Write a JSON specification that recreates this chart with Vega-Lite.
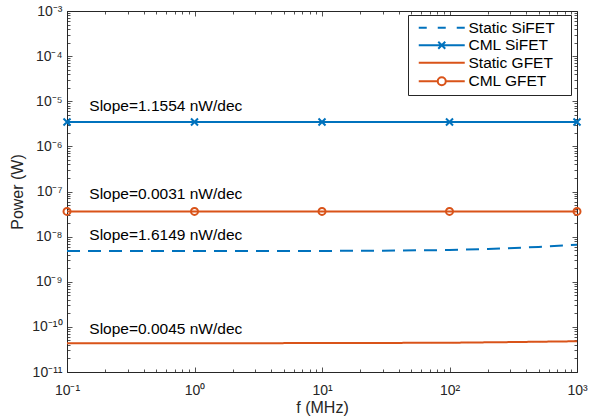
{
  "$schema": "https://vega.github.io/schema/vega-lite/v6.json",
  "width": 510,
  "height": 361,
  "autosize": "none",
  "padding": {"left": 67, "top": 11, "right": 13, "bottom": 47},
  "background": "white",
  "config": {
    "view": {"stroke": "#262626", "strokeWidth": 1},
    "font": "Liberation Sans",
    "axis": {
      "grid": false,
      "domainColor": "#262626",
      "tickColor": "#262626",
      "tickWidth": 0.8,
      "labelColor": "#262626",
      "titleColor": "#262626",
      "titleFontWeight": "normal",
      "labelFontSize": 14,
      "titleFontSize": 16,
      "labelFlush": false,
      "labelOverlap": false,
      "labelBound": false
    }
  },
  "datasets": {
    "lines": [
      {"series": "Static SiFET", "f": 0.1, "p": 4.8e-9},
      {"series": "Static SiFET", "f": 1, "p": 4.8e-9},
      {"series": "Static SiFET", "f": 10, "p": 4.82e-9},
      {"series": "Static SiFET", "f": 30, "p": 4.88e-9},
      {"series": "Static SiFET", "f": 100, "p": 5.05e-9},
      {"series": "Static SiFET", "f": 200, "p": 5.3e-9},
      {"series": "Static SiFET", "f": 500, "p": 5.9e-9},
      {"series": "Static SiFET", "f": 1000, "p": 6.6e-9},
      {"series": "CML SiFET", "f": 0.1, "p": 3.46e-6},
      {"series": "CML SiFET", "f": 1, "p": 3.46e-6},
      {"series": "CML SiFET", "f": 10, "p": 3.46e-6},
      {"series": "CML SiFET", "f": 100, "p": 3.46e-6},
      {"series": "CML SiFET", "f": 1000, "p": 3.46e-6},
      {"series": "Static GFET", "f": 0.1, "p": 4.35e-11},
      {"series": "Static GFET", "f": 1, "p": 4.35e-11},
      {"series": "Static GFET", "f": 10, "p": 4.37e-11},
      {"series": "Static GFET", "f": 100, "p": 4.45e-11},
      {"series": "Static GFET", "f": 300, "p": 4.6e-11},
      {"series": "Static GFET", "f": 1000, "p": 4.8e-11},
      {"series": "CML GFET", "f": 0.1, "p": 3.62e-8},
      {"series": "CML GFET", "f": 1, "p": 3.62e-8},
      {"series": "CML GFET", "f": 10, "p": 3.62e-8},
      {"series": "CML GFET", "f": 100, "p": 3.62e-8},
      {"series": "CML GFET", "f": 1000, "p": 3.62e-8}
    ],
    "notes": [
      {"label": "Slope=1.1554 nW/dec", "f": 0.1496, "p": 7.7e-6},
      {"label": "Slope=0.0031 nW/dec", "f": 0.1496, "p": 8.6e-8},
      {"label": "Slope=1.6149 nW/dec", "f": 0.1496, "p": 1.06e-8},
      {"label": "Slope=0.0045 nW/dec", "f": 0.1496, "p": 9.2e-11}
    ]
  },
  "resolve": {
    "axis": {"x": "independent", "y": "independent"},
    "scale": {"shape": "independent"}
  },
  "layer": [
    {
      "data": {"name": "lines"},
      "mark": {"type": "line", "strokeWidth": 2, "clip": true},
      "encoding": {
        "x": {
          "field": "f", "type": "quantitative",
          "scale": {"type": "log", "domain": [0.1, 1000], "nice": false},
          "axis": {
            "title": "f (MHz)",
            "orient": "bottom",
            "values": [0.1,0.2,0.3,0.4,0.5,0.6,0.7,0.8,0.9,1,2,3,4,5,6,7,8,9,10,20,30,40,50,60,70,80,90,100,200,300,400,500,600,700,800,900,1000],
            "labelExpr": "abs(log(datum.value)/LN10 - round(log(datum.value)/LN10)) < 1e-6 ? ['10⁻¹','10⁰','10¹','10²','10³'][round(log(datum.value)/LN10)+1] : ''",
            "tickSize": {"condition": {"test": "abs(log(datum.value)/LN10 - round(log(datum.value)/LN10)) < 1e-6", "value": -5}, "value": -3},
            "labelPadding": 16,
            "titlePadding": 0
          }
        },
        "y": {
          "field": "p", "type": "quantitative",
          "scale": {"type": "log", "domain": [1e-11, 1e-3], "nice": false},
          "axis": {
            "title": "Power (W)",
            "orient": "left",
            "values": [1e-11,2e-11,3e-11,4e-11,5e-11,6e-11,7e-11,8e-11,9e-11,1e-10,2e-10,3e-10,4e-10,5e-10,6e-10,7e-10,8e-10,9e-10,1e-9,2e-9,3e-9,4e-9,5e-9,6e-9,7e-9,8e-9,9e-9,1e-8,2e-8,3e-8,4e-8,5e-8,6e-8,7e-8,8e-8,9e-8,1e-7,2e-7,3e-7,4e-7,5e-7,6e-7,7e-7,8e-7,9e-7,1e-6,2e-6,3e-6,4e-6,5e-6,6e-6,7e-6,8e-6,9e-6,1e-5,2e-5,3e-5,4e-5,5e-5,6e-5,7e-5,8e-5,9e-5,1e-4,2e-4,3e-4,4e-4,5e-4,6e-4,7e-4,8e-4,9e-4,1e-3],
            "labelExpr": "abs(log(datum.value)/LN10 - round(log(datum.value)/LN10)) < 1e-6 ? ['10⁻¹¹','10⁻¹⁰','10⁻⁹','10⁻⁸','10⁻⁷','10⁻⁶','10⁻⁵','10⁻⁴','10⁻³'][round(log(datum.value)/LN10)+11] : ''",
            "tickSize": {"condition": {"test": "abs(log(datum.value)/LN10 - round(log(datum.value)/LN10)) < 1e-6", "value": -5}, "value": -3},
            "labelPadding": 10,
            "titlePadding": 6
          }
        },
        "color": {
          "field": "series", "type": "nominal",
          "scale": {"domain": ["Static SiFET", "CML SiFET", "Static GFET", "CML GFET"], "range": ["#0072BD", "#0072BD", "#D95319", "#D95319"]},
          "legend": null
        },
        "strokeDash": {
          "field": "series", "type": "nominal",
          "scale": {"domain": ["Static SiFET", "CML SiFET", "Static GFET", "CML GFET"], "range": [[13, 8], [1, 0], [1, 0], [1, 0]]},
          "legend": null
        }
      }
    },
    {
      "data": {"name": "lines"},
      "transform": [{"filter": "datum.series == 'CML SiFET'"}],
      "mark": {"type": "point", "filled": false, "strokeWidth": 2, "size": 49, "opacity": 1, "color": "#0072BD", "shape": "M-1,-1L1,1M-1,1L1,-1", "clip": false},
      "encoding": {
        "x": {"field": "f", "type": "quantitative", "axis": null},
        "y": {"field": "p", "type": "quantitative", "axis": null}
      }
    },
    {
      "data": {"name": "lines"},
      "transform": [{"filter": "datum.series == 'CML GFET'"}],
      "mark": {"type": "point", "filled": false, "strokeWidth": 2, "size": 49, "opacity": 1, "color": "#D95319", "shape": "circle", "clip": false},
      "encoding": {
        "x": {"field": "f", "type": "quantitative", "axis": null},
        "y": {"field": "p", "type": "quantitative", "axis": null}
      }
    },
    {
      "data": {"name": "lines"},
      "mark": {"type": "point", "filled": false, "strokeWidth": 2, "size": 100, "opacity": 0},
      "encoding": {
        "x": {
          "field": "f", "type": "quantitative",
          "axis": {
            "orient": "top", "title": null, "labels": false, "domain": false,
            "values": [0.1,0.2,0.3,0.4,0.5,0.6,0.7,0.8,0.9,1,2,3,4,5,6,7,8,9,10,20,30,40,50,60,70,80,90,100,200,300,400,500,600,700,800,900,1000],
            "tickSize": {"condition": {"test": "abs(log(datum.value)/LN10 - round(log(datum.value)/LN10)) < 1e-6", "value": -5}, "value": -3}
          }
        },
        "y": {
          "field": "p", "type": "quantitative",
          "axis": {
            "orient": "right", "title": null, "labels": false, "domain": false,
            "values": [1e-11,2e-11,3e-11,4e-11,5e-11,6e-11,7e-11,8e-11,9e-11,1e-10,2e-10,3e-10,4e-10,5e-10,6e-10,7e-10,8e-10,9e-10,1e-9,2e-9,3e-9,4e-9,5e-9,6e-9,7e-9,8e-9,9e-9,1e-8,2e-8,3e-8,4e-8,5e-8,6e-8,7e-8,8e-8,9e-8,1e-7,2e-7,3e-7,4e-7,5e-7,6e-7,7e-7,8e-7,9e-7,1e-6,2e-6,3e-6,4e-6,5e-6,6e-6,7e-6,8e-6,9e-6,1e-5,2e-5,3e-5,4e-5,5e-5,6e-5,7e-5,8e-5,9e-5,1e-4,2e-4,3e-4,4e-4,5e-4,6e-4,7e-4,8e-4,9e-4,1e-3],
            "tickSize": {"condition": {"test": "abs(log(datum.value)/LN10 - round(log(datum.value)/LN10)) < 1e-6", "value": -5}, "value": -3}
          }
        },
        "shape": {
          "field": "series", "type": "nominal",
          "scale": {
            "domain": ["Static SiFET", "CML SiFET", "Static GFET", "CML GFET"],
            "range": [
              "M-4.6,0H-3M-0.8,0H0.8M3,0H4.6",
              "M-4.6,0H4.6M-0.7,-0.7L0.7,0.7M-0.7,0.7L0.7,-0.7",
              "M-4.6,0H4.6",
              "M-4.6,0H-0.8A0.8,0.8 0 1,1 0.8,0A0.8,0.8 0 1,1 -0.8,0M0.8,0H4.6"
            ]
          },
          "legend": {
            "orient": "none", "legendX": 341, "legendY": 4,
            "title": "\u00a0",
            "titleOrient": "right",
            "titlePadding": 11,
            "titleFontSize": 12,
            "padding": 5,
            "strokeColor": "#262626",
            "fillColor": "white",
            "symbolSize": 100,
            "symbolStrokeWidth": 2,
            "symbolOpacity": 1,
            "symbolFillColor": "transparent",
            "symbolStrokeColor": {"expr": "indexof(datum.value, 'SiFET') >= 0 ? '#0072BD' : '#D95319'"},
            "symbolOffset": 21,
            "labelOffset": 19,
            "labelFontSize": 15.5,
            "labelColor": "#000000",
            "rowPadding": 0.5
          }
        }
      }
    },
    {
      "data": {"name": "notes"},
      "mark": {"type": "text", "align": "left", "baseline": "middle", "fontSize": 15.5, "color": "#000000"},
      "encoding": {
        "x": {"field": "f", "type": "quantitative", "axis": null},
        "y": {"field": "p", "type": "quantitative", "axis": null},
        "text": {"field": "label"}
      }
    }
  ]
}
